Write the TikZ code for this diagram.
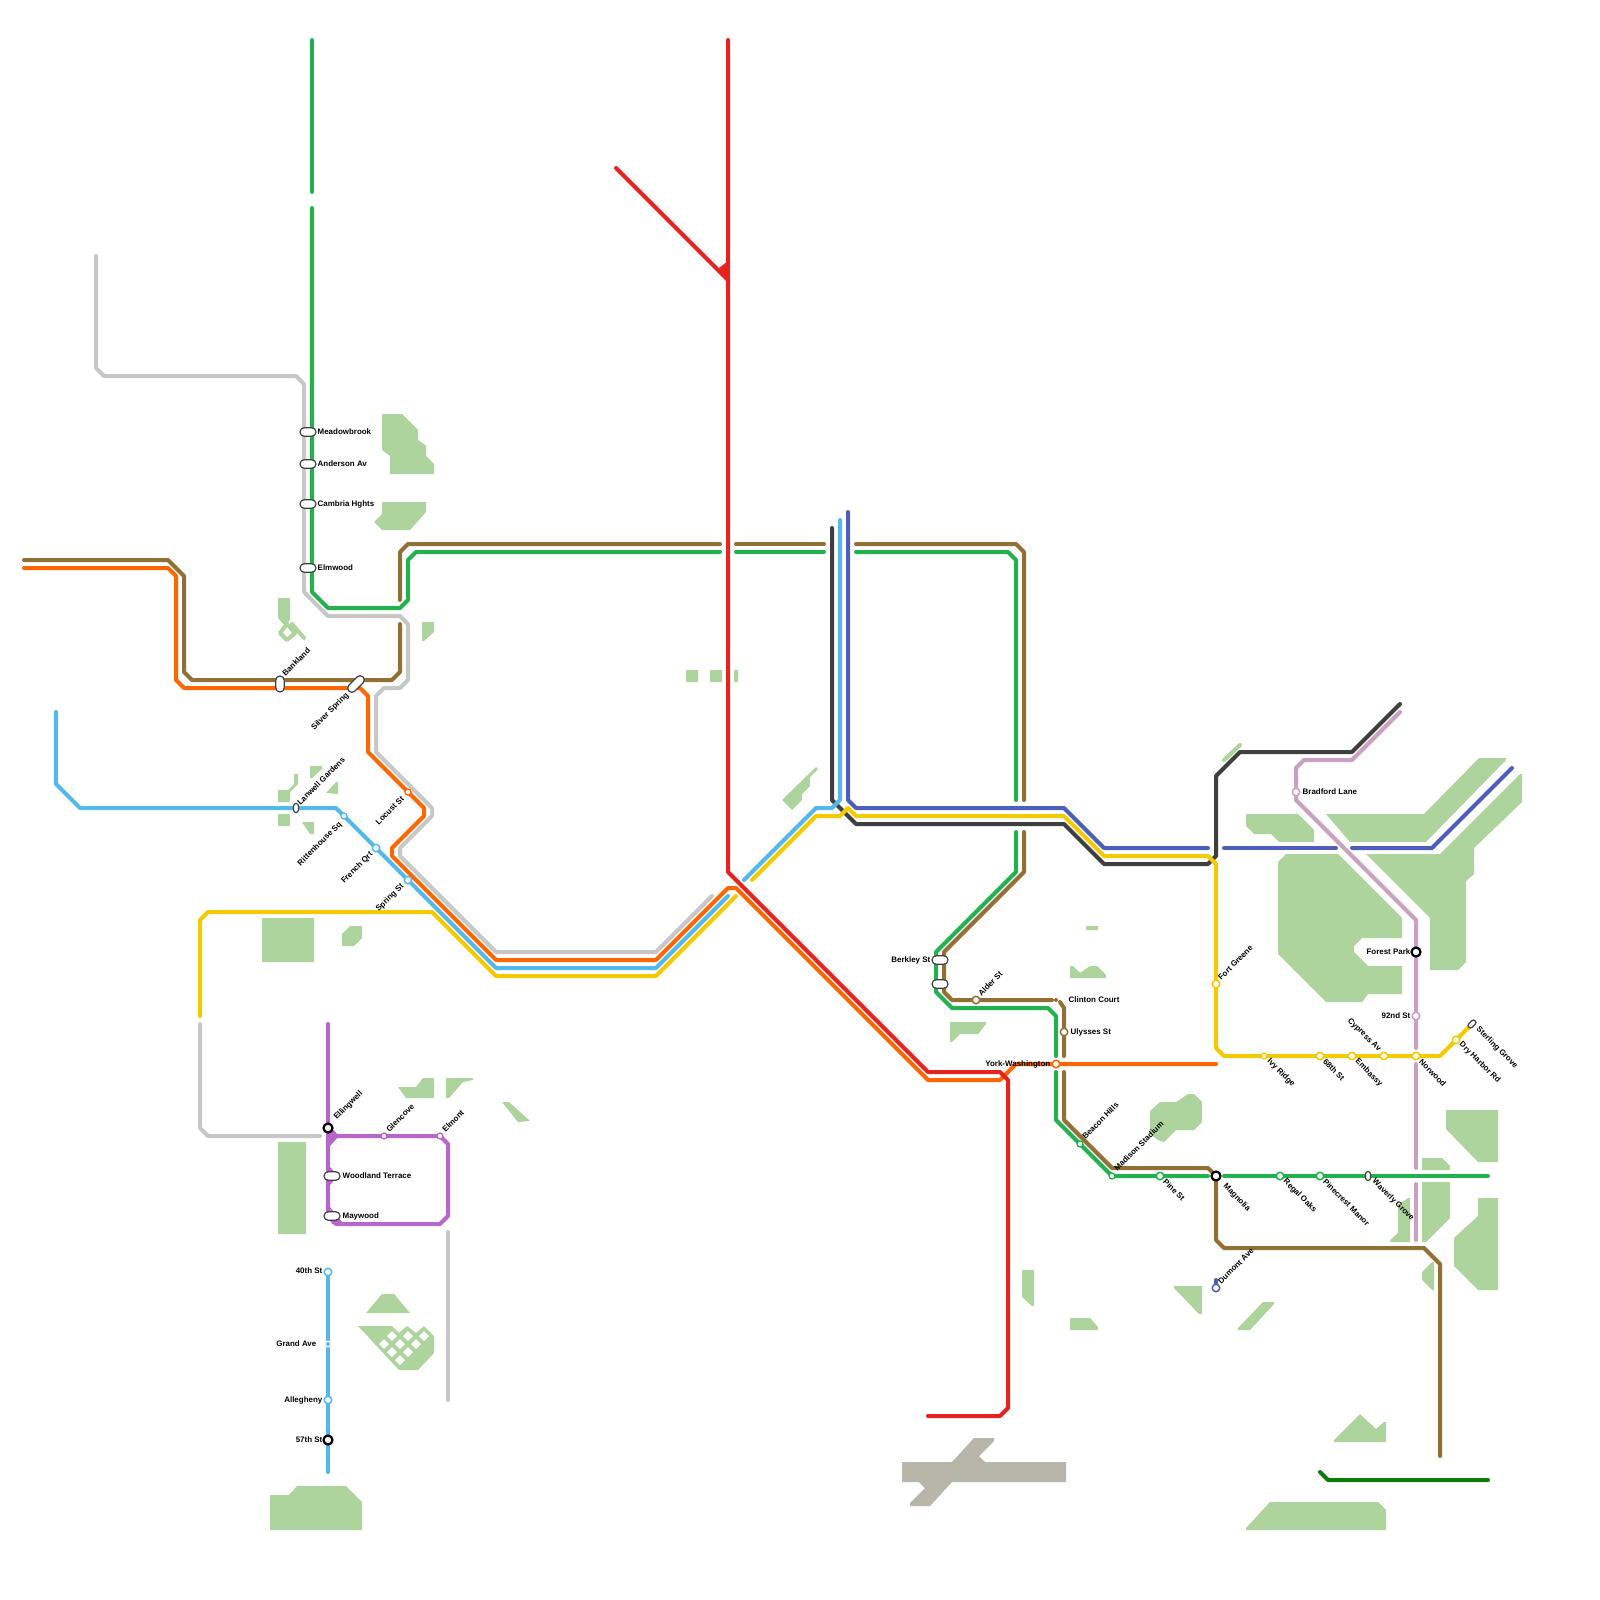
\documentclass[tikz,border=0pt]{standalone}
\usepackage{fontspec}
\setmainfont{Liberation Sans}
\usepackage{xcolor}
\usetikzlibrary{shapes.misc}
\definecolor{cGray}{HTML}{C7C7C7}
\definecolor{cGreen}{HTML}{21B24F}
\definecolor{cBrown}{HTML}{927034}
\definecolor{cOrange}{HTML}{FF6600}
\definecolor{cRed}{HTML}{E6231F}
\definecolor{cSky}{HTML}{55B8EA}
\definecolor{cGold}{HTML}{F4C900}
\definecolor{cSlate}{HTML}{3F3F3F}
\definecolor{cBlue}{HTML}{4B5FBB}
\definecolor{cPink}{HTML}{C9A0C2}
\definecolor{cPurple}{HTML}{B865C9}
\definecolor{cForest}{HTML}{0F7A0A}
\definecolor{cPark}{HTML}{ACD49C}
\definecolor{cAir}{HTML}{B8B5AA}
\tikzset{
  metro/.style={line width=0.4mm,line cap=round,line join=round,#1},
  park/.style={fill=cPark,rounded corners=0.05mm},
  stop/.style={circle,draw=#1,fill=white,line width=0.15mm,inner sep=0,minimum size=0.75mm},
  minor/.style={circle,draw=#1,fill=white,line width=0.13mm,inner sep=0,minimum size=0.6mm},
  hub/.style={circle,draw=black,fill=white,line width=0.22mm,inner sep=0,minimum size=0.9mm},
  pill/.style={rounded rectangle,draw=black!75,fill=white,line width=0.12mm,inner sep=0,
    minimum width=1.6mm,minimum height=0.85mm},
  stub/.style={pill,minimum width=0.9mm,minimum height=0.5mm},
  lbl/.style={font=\fontsize{2.26}{2.8}\selectfont\bfseries,inner sep=0,text=black},
  lblne/.style={lbl,rotate=45,anchor=west},
  lblse/.style={lbl,rotate=-45,anchor=west},
  lblsw/.style={lbl,rotate=45,anchor=east},
  lblnw/.style={lbl,rotate=-45,anchor=east},
  lble/.style={lbl,anchor=west,yshift=-0.1mm},
  lblw/.style={lbl,anchor=east,yshift=-0.1mm,xshift=0.1mm}
}
\begin{document}
\begin{tikzpicture}[x=0.01cm,y=-0.01cm]
\useasboundingbox (0,0) rectangle (1600,1600);
% parks, top left
\fill[park] (382,414) -- (402,414) -- (418,430) -- (418,440) -- (426,446) -- (426,456) -- (434,464) -- (434,474) -- (390,474) -- (390,456) -- (382,450) -- cycle;
\fill[park] (382,502) -- (426,502) -- (426,512) -- (410,530) -- (382,530) -- (374,522) -- (382,514) -- cycle;
\fill[park] (278,598) -- (290,598) -- (290,620) -- (285,626) -- (278,618) -- cycle;
\draw[cPark,line width=0.4mm,line join=round] (287,624) -- (280,633) -- (287,640) -- (295,633) -- cycle;
\draw[cPark,line width=0.4mm,line cap=round] (292,624) -- (304,638);
\fill[park] (422,622) -- (434,622) -- (434,632) -- (424,641) -- (422,641) -- cycle;
\fill[park] (686,670) rectangle (698,682);
\fill[park] (710,670) rectangle (722,682);
\fill[park] (734,670) rectangle (738,682);
\fill[park] (816,767) -- (818,769) -- (810,777) -- (810,786) -- (802,794) -- (802,800) -- (792,810) -- (782,800) -- cycle;
% parks, left
\fill[park] (278,790) -- (288,790) -- (294,784) -- (294,774) -- (298,774) -- (298,784) -- (290,792) -- (290,802) -- (278,802) -- cycle;
\fill[park] (278,814) rectangle (290,826);
\fill[park] (302,822) -- (314,822) -- (314,834) -- (310,834) -- cycle;
\fill[park] (310,766) -- (322,766) -- (322,769) -- (312,778) -- (310,778) -- cycle;
\fill[park] (326,793) -- (336,782) -- (338,782) -- (338,794) -- cycle;
\fill[park] (262,918) rectangle (314,962);
\fill[park] (350,926) -- (362,926) -- (362,938) -- (354,946) -- (342,946) -- (342,934) -- cycle;
\fill[park] (278,1142) rectangle (306,1234);
\fill[park] (398,1087) -- (416,1087) -- (423,1078) -- (434,1078) -- (434,1098) -- (406,1098) -- cycle;
\fill[park] (446,1078) -- (473,1078) -- (473,1080) -- (463,1082) -- (449,1098) -- (446,1098) -- cycle;
\fill[park] (502,1102) -- (509,1102) -- (530,1121) -- (518,1122) -- cycle;
\fill[park] (366,1313) -- (382,1294) -- (394,1294) -- (410,1313) -- cycle;
\fill[park] (358,1326) -- (392,1326) -- (399,1333) -- (407,1326) -- (416,1333) -- (424,1326) -- (434,1336) -- (434,1353) -- (418,1370) -- (399,1370) -- cycle;
\foreach \x/\y in {392/1336,408/1336,424/1336,384/1344,400/1344,416/1344,392/1352,408/1352,400/1360}
  \fill[white] (\x-5,\y) -- (\x,\y-5) -- (\x+5,\y) -- (\x,\y+5) -- cycle;
\fill[park] (270,1495) -- (289,1495) -- (297,1486) -- (346,1486) -- (362,1502) -- (362,1530) -- (270,1530) -- cycle;
% parks, middle
\fill[park] (1086,926) rectangle (1098,930);
\fill[park] (1070,966) -- (1073,966) -- (1080,973) -- (1090,966) -- (1097,966) -- (1106,975) -- (1106,978) -- (1070,978) -- cycle;
\fill[park] (950,1022) -- (986,1022) -- (986,1024) -- (978,1034) -- (960,1034) -- (952,1042) -- (950,1042) -- cycle;
\fill[park] (1150,1111) -- (1160,1102) -- (1176,1102) -- (1188,1094) -- (1194,1094) -- (1202,1102) -- (1202,1122) -- (1194,1130) -- (1176,1130) -- (1164,1142) -- (1158,1140) -- (1150,1134) -- cycle;
\fill[park] (1022,1270) -- (1034,1270) -- (1034,1306) -- (1032,1306) -- (1022,1297) -- cycle;
\fill[park] (1070,1318) -- (1090,1318) -- (1098,1327) -- (1098,1330) -- (1070,1330) -- cycle;
\fill[park] (1174,1286) -- (1202,1286) -- (1202,1314) -- (1199,1314) -- (1174,1288) -- cycle;
% parks, right
\draw[cPark,line width=0.4mm,line cap=round] (1224,760) -- (1240,745);
\fill[park] (1246,814) -- (1298,814) -- (1314,830) -- (1314,842) -- (1279,842) -- (1271,834) -- (1254,834) -- (1246,826) -- cycle;
\fill[park] (1326,814) -- (1424,814) -- (1479,758) -- (1506,758) -- (1506,760) -- (1426,842) -- (1350,842) -- cycle;
\fill[park] (1278,862) -- (1286,854) -- (1338,854) -- (1402,918) -- (1402,938) -- (1362,938) -- (1354,946) -- (1354,952) -- (1368,966) -- (1402,966) -- (1402,994) -- (1368,994) -- (1362,1002) -- (1326,1002) -- (1278,954) -- cycle;
\fill[park] (1366,854) -- (1440,854) -- (1520,774) -- (1522,774) -- (1522,802) -- (1474,848) -- (1474,874) -- (1466,881) -- (1466,962) -- (1458,970) -- (1430,970) -- (1430,918) -- cycle;
\fill[park] (1446,1110) -- (1498,1110) -- (1498,1162) -- (1478,1162) -- (1446,1129) -- cycle;
\fill[park] (1422,1158) -- (1442,1158) -- (1450,1166) -- (1450,1170) -- (1422,1170) -- cycle;
\fill[park] (1422,1182) -- (1450,1182) -- (1450,1218) -- (1426,1242) -- (1422,1242) -- cycle;
\fill[park] (1390,1240) -- (1398,1233) -- (1398,1205) -- (1408,1198) -- (1410,1198) -- (1410,1242) -- (1390,1242) -- cycle;
\fill[park] (1478,1198) -- (1498,1198) -- (1498,1290) -- (1478,1290) -- (1454,1266) -- (1454,1238) -- (1478,1216) -- cycle;
\fill[park] (1432,1262) -- (1434,1262) -- (1434,1290) -- (1432,1290) -- (1422,1280) -- (1422,1272) -- cycle;
\fill[park] (1238,1328) -- (1263,1302) -- (1274,1302) -- (1274,1304) -- (1250,1330) -- (1238,1330) -- cycle;
\fill[park] (1334,1440) -- (1360,1414) -- (1376,1429) -- (1384,1422) -- (1386,1422) -- (1386,1442) -- (1334,1442) -- cycle;
\fill[park] (1246,1528) -- (1270,1502) -- (1378,1502) -- (1386,1510) -- (1386,1530) -- (1246,1530) -- cycle;
% airport
\fill[cAir,rounded corners=0.05mm] (974,1438) -- (994,1438) -- (994,1441) -- (979,1456) -- (985,1462) -- (1066,1462) -- (1066,1482) -- (952,1482) -- (930,1506) -- (910,1506) -- (910,1503) -- (925,1488) -- (919,1482) -- (902,1482) -- (902,1462) -- (952,1462) -- cycle;
% gray line
\draw[metro=cGray] (96,256) -- (96,368) -- (104,376) -- (296,376) -- (304,384) -- (304,592) -- (328,616) -- (400,616) -- (408,624) -- (408,680) -- (400,688) -- (384,688) -- (376,696) -- (376,752) -- (432,808) -- (432,816) -- (400,848) -- (400,856) -- (496,952) -- (656,952) -- (712,896);
\draw[metro=cGray] (200,1024) -- (200,1128) -- (208,1136) -- (320,1136);
\draw[metro=cGray] (448,1232) -- (448,1400);
% brown line
\draw[metro=cBrown] (24,560) -- (168,560) -- (184,576) -- (184,672) -- (192,680) -- (392,680) -- (400,672) -- (400,624);
\draw[metro=cBrown] (400,600) -- (400,552) -- (408,544) -- (720,544);
\draw[metro=cBrown] (736,544) -- (824,544);
\draw[metro=cBrown] (856,544) -- (1016,544) -- (1024,552) -- (1024,800);
\draw[metro=cBrown] (1024,832) -- (1024,872) -- (944,952) -- (944,992) -- (952,1000) -- (1052,1000);
\draw[metro=cBrown] (1060,1002) -- (1064,1008) -- (1064,1056);
\draw[metro=cBrown] (1064,1072) -- (1064,1120) -- (1112,1168) -- (1208,1168) -- (1216,1176) -- (1216,1240) -- (1224,1248) -- (1424,1248) -- (1440,1264) -- (1440,1456);
% green line
\draw[metro=cGreen] (312,40) -- (312,192);
\draw[metro=cGreen] (312,208) -- (312,592) -- (328,608) -- (400,608) -- (408,600) -- (408,560) -- (416,552) -- (720,552);
\draw[metro=cGreen] (736,552) -- (824,552);
\draw[metro=cGreen] (856,552) -- (1008,552) -- (1016,560) -- (1016,800);
\draw[metro=cGreen] (1016,832) -- (1016,872) -- (936,952) -- (936,992) -- (952,1008) -- (1048,1008) -- (1056,1016) -- (1056,1056);
\draw[metro=cGreen] (1056,1072) -- (1056,1120) -- (1112,1176) -- (1208,1176);
\draw[metro=cGreen] (1224,1176) -- (1488,1176);
% orange line
\draw[metro=cOrange] (24,568) -- (168,568) -- (176,576) -- (176,680) -- (184,688) -- (360,688) -- (368,696) -- (368,752) -- (424,808) -- (424,816) -- (392,848) -- (392,856) -- (496,960) -- (656,960) -- (728,888) -- (736,888) -- (928,1080) -- (1000,1080) -- (1016,1064) -- (1216,1064);
% dark line
\draw[metro=cSlate] (832,528) -- (832,800) -- (856,824) -- (1064,824) -- (1104,864) -- (1208,864) -- (1216,856) -- (1216,776) -- (1240,752) -- (1352,752) -- (1400,704);
% sky line
\draw[metro=cSky] (56,712) -- (56,784) -- (80,808) -- (336,808) -- (496,968) -- (656,968) -- (728,896);
\draw[metro=cSky] (744,880) -- (816,808) -- (832,808) -- (840,800) -- (840,520);
\draw[metro=cSky] (328,1272) -- (328,1472);
% blue line
\draw[metro=cBlue] (848,512) -- (848,800) -- (856,808) -- (1064,808) -- (1104,848) -- (1208,848);
\draw[metro=cBlue] (1224,848) -- (1336,848);
\draw[metro=cBlue] (1352,848) -- (1432,848) -- (1512,768);
\draw[metro=cBlue] (1216,1288) -- (1216,1280);
% yellow line
\draw[metro=cGold] (200,1016) -- (200,920) -- (208,912) -- (432,912) -- (496,976) -- (656,976) -- (736,896);
\draw[metro=cGold] (752,880) -- (816,816) -- (840,816) -- (848,808) -- (856,816) -- (1064,816) -- (1104,856) -- (1208,856) -- (1216,864) -- (1216,1048) -- (1224,1056) -- (1440,1056) -- (1472,1024);
% pink line
\draw[metro=cPink] (1400,712) -- (1352,760) -- (1304,760) -- (1296,768) -- (1296,800) -- (1416,920) -- (1416,1048);
\draw[metro=cPink] (1416,1064) -- (1416,1168);
\draw[metro=cPink] (1416,1184) -- (1416,1240);
% purple line
\draw[metro=cPurple] (328,1024) -- (328,1216) -- (336,1224) -- (440,1224) -- (448,1216) -- (448,1144) -- (440,1136) -- (328,1136);
\fill[cPurple] (330,1126) -- (339,1136) -- (330,1146) -- cycle;
\fill[cPurple] (330,1167) -- (338,1176) -- (330,1185) -- cycle;
\fill[cPurple] (330,1207) -- (342,1222) -- (332,1224) -- cycle;
% red line
\draw[metro=cRed] (728,40) -- (728,872) -- (928,1072) -- (1000,1072) -- (1008,1080) -- (1008,1408) -- (1000,1416) -- (928,1416);
\draw[metro=cRed] (616,168) -- (728,280);
\fill[cRed] (719,268) -- (728,261) -- (728,280) -- cycle;
% dark green line
\draw[metro=cForest] (1320,1472) -- (1328,1480) -- (1488,1480);
% pill stations
\foreach \y/\n in {432/meadowbrook,464/anderson,504/cambria,568/elmwood}
  \node[pill] (\n) at (308,\y) {};
\foreach \y/\n in {960/berkley,984/berkleyb}
  \node[pill] (\n) at (940,\y) {};
\foreach \y/\n in {1176/woodland,1216/maywood}
  \node[pill] (\n) at (332,\y) {};
\node[pill,rotate=90] (bankland) at (280,684) {};
\node[pill,rotate=45,minimum width=2mm] (silverspring) at (356,684) {};
\node[stub,rotate=90] (lanwell) at (296,808) {};
\node[stub,rotate=90] (waverly) at (1368,1176) {};
\node[stub,rotate=45] (sterling) at (1472,1024) {};
% round stations
\foreach \x/\y/\n in {376/848/french,408/880/spring,328/1272/fortieth,328/1400/allegheny}
  \node[stop=cSky] (\n) at (\x,\y) {};
\node[minor=cSky] (rittenhouse) at (344,816) {};
\node[minor=cOrange] (locust) at (408,792) {};
\node[stop=cOrange] (york) at (1056,1064) {};
\node[minor=cPurple] (glencove) at (384,1136) {};
\node[minor=cPurple] (elmont) at (440,1136) {};
\foreach \x/\y/\n in {976/1000/alder,1064/1032/ulysses}
  \node[stop=cBrown] (\n) at (\x,\y) {};
\foreach \x/\n in {1160/pine,1280/regal,1320/pinecrest}
  \node[stop=cGreen] (\n) at (\x,1176) {};
\node[minor=cGreen] (beacon) at (1080,1144) {};
\node[minor=cGreen] (madison) at (1112,1176) {};
\foreach \x/\n in {1320/sixtyeighth,1352/embassy,1384/cypress,1416/norwood}
  \node[stop=cGold] (\n) at (\x,1056) {};
\node[minor=cGold] (ivy) at (1264,1056) {};
\node[stop=cGold] (dryharbor) at (1456,1040) {};
\node[stop=cGold] (fortgreene) at (1216,984) {};
\node[stop=cPink] (bradford) at (1296,792) {};
\node[stop=cPink] (ninetysecond) at (1416,1016) {};
\node[stop=cBlue] (dumont) at (1216,1288) {};
% small stops
\node[circle,fill=white,inner sep=0,minimum size=0.7mm] (grand) at (328,1344) {};
\fill[cSky] (grand.center) circle (2);
\fill[cBrown] (1056,1000) circle (2) coordinate (clinton);
% black stations
\foreach \x/\y/\n in {328/1128/ellingwell,328/1440/fiftyseventh,1216/1176/magnolia,1416/952/forestpark}
  \node[hub] (\n) at (\x,\y) {};
% labels
\node[lble] (tMeadow) at (317,431) {Meadowbrook};
\node[lble] (tAnder) at (317,463) {Anderson Av};
\node[lble] (tCamb) at (317,503) {Cambria Hghts};
\node[lble] (tElm) at (317,567) {Elmwood};
\node[lblne] (tBank) at (283,675) {Bankland};
\node[lblsw] (tSilver) at (348,694) {Silver Spring};
\node[lblne] (tLanwell) at (298,804) {Lanwell Gardens};
\node[lblsw] (tRitten) at (341,823) {Rittenhouse Sq};
\node[lblsw] (tLocust) at (403,797) {Locust St};
\node[lblsw] (tFrench) at (372,853) {French Qrt};
\node[lblsw] (tSpring) at (403,885) {Spring St};
\node[lblne] (tEll) at (335,1119) {Ellingwell};
\node[lblne] (tGlen) at (387,1131) {Glencove};
\node[lblne] (tElmont) at (443,1131) {Elmont};
\node[lble] (tWood) at (342,1175) {Woodland Terrace};
\node[lble] (tMay) at (342,1215) {Maywood};
\node[lblw] (t40) at (322,1270) {40th St};
\node[lblw] (tGrand) at (316,1343) {Grand Ave};
\node[lblw] (tAlle) at (322,1399) {Allegheny};
\node[lblw] (t57) at (322,1439) {57th St};
\node[lblw] (tBerk) at (930,959) {Berkley St};
\node[lblne] (tAlder) at (979,995) {Alder St};
\node[lble] (tClin) at (1068,999) {Clinton Court};
\node[lble] (tUly) at (1070,1031) {Ulysses St};
\node[lblw] (tYork) at (1050,1063) {York-Washington};
\node[lblne] (tBeacon) at (1083,1138) {Beacon Hills};
\node[lblne] (tMadison) at (1115,1170) {Madison Stadium};
\node[lblse] (tPine) at (1164,1180) {Pine St};
\node[lblse] (tMag) at (1224,1185) {Magnolia};
\node[lblse] (tRegal) at (1284,1180) {Regal Oaks};
\node[lblse] (tPinec) at (1324,1180) {Pinecrest Manor};
\node[lblse] (tWav) at (1373,1180) {Waverly Grove};
\node[lblne] (tDumont) at (1219,1283) {Dumont Ave};
\node[lblne] (tFort) at (1219,979) {Fort Greene};
\node[lblse] (tIvy) at (1268,1060) {Ivy Ridge};
\node[lblse] (t68) at (1324,1060) {68th St};
\node[lblse] (tEmb) at (1356,1060) {Embassy};
\node[lblnw] (tCyp) at (1380,1051) {Cypress Av};
\node[lblse] (tNor) at (1420,1060) {Norwood};
\node[lblse] (tDry) at (1460,1043) {Dry Harbor Rd};
\node[lblse] (tSter) at (1477,1028) {Sterling Grove};
\node[lblw] (tForest) at (1410,951) {Forest Park};
\node[lblw] (t92) at (1410,1015) {92nd St};
\node[lble] (tBrad) at (1302,791) {Bradford Lane};
\end{tikzpicture}
\end{document}
